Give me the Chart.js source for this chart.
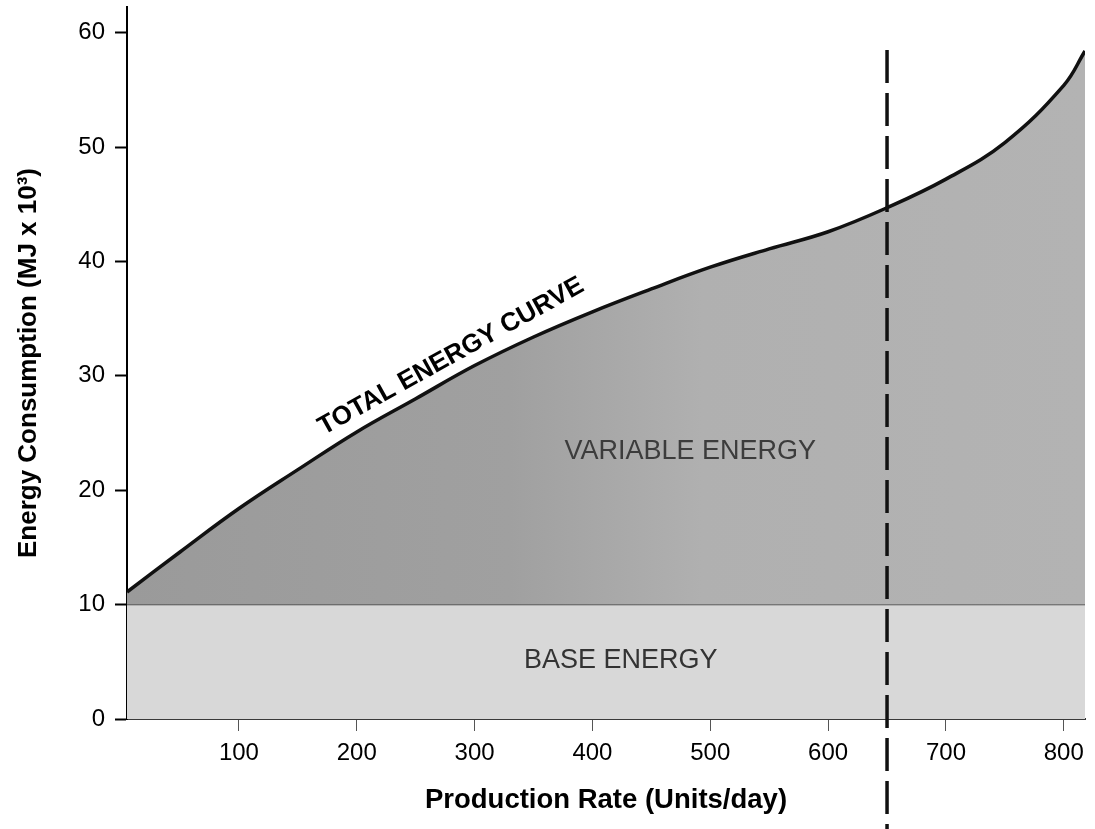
<!DOCTYPE html>
<html>
<head>
<meta charset="utf-8">
<script src="https://cdn.jsdelivr.net/npm/chart.js@4/dist/chart.umd.min.js"></script>
<style>
  html, body { margin: 0; padding: 0; background: #ffffff; }
  #wrap { width: 1095px; height: 829px; }
</style>
</head>
<body>
<div id="wrap"><canvas id="c" width="1095" height="829"></canvas></div>
<script>
// ---- data ----
const productionRate = [5, 50, 100, 150, 200, 250, 300, 350, 400, 450, 500, 550, 600, 650, 700, 750, 800, 818];
const totalEnergy    = [11.1, 14.6, 18.4, 21.8, 25.1, 28.0, 30.9, 33.4, 35.6, 37.6, 39.5, 41.1, 42.6, 44.7, 47.2, 50.4, 55.4, 58.4];
const baseRate       = [5, 818];
const baseEnergy     = [10, 10];
const xTickValues    = [100, 200, 300, 400, 500, 600, 700, 800];
const yTickValues    = [0, 10, 20, 30, 40, 50, 60];
const capacityRate   = [650];
const capacityTop    = [58.5];
const xTitle = 'Production Rate (Units/day)';
const yTitle = 'Energy Consumption (MJ x 10³)';
const textLabels = ['TOTAL ENERGY CURVE', 'VARIABLE ENERGY', 'BASE ENERGY'];

// ---- styling / placement (not data) ----
const FONT = "'Liberation Sans', Arial, Helvetica, sans-serif";
const labelPlacement = [
  { x: 280, y: 31.7, rot: -29, font: 'bold 26px ' + FONT, color: '#000000' },
  { x: 483, y: 23.4, rot: 0, font: '27px ' + FONT, color: '#3c3c3c' },
  { x: 424, y: 5.1, rot: 0, font: '27px ' + FONT, color: '#333333' }
];

const toXY = (xs, ys) => xs.map((x, i) => ({ x: x, y: ys[i] }));

const overlayPlugin = {
  id: 'overlay',
  afterDraw(chart) {
    const ctx = chart.ctx;
    const xs = chart.scales.x, ys = chart.scales.y;
    ctx.save();
    ctx.strokeStyle = '#111111';
    ctx.lineWidth = 3.5;
    ctx.setLineDash([33, 10]);
    capacityRate.forEach((v, i) => {
      const px = xs.getPixelForValue(v);
      ctx.beginPath();
      ctx.moveTo(px, ys.getPixelForValue(capacityTop[i]));
      ctx.lineTo(px, chart.height);
      ctx.stroke();
    });
    ctx.restore();
    textLabels.forEach((t, i) => {
      const p = labelPlacement[i];
      ctx.save();
      ctx.translate(xs.getPixelForValue(p.x), ys.getPixelForValue(p.y));
      ctx.rotate(p.rot * Math.PI / 180);
      ctx.font = p.font;
      ctx.fillStyle = p.color;
      ctx.textAlign = 'center';
      ctx.textBaseline = 'middle';
      ctx.fillText(t, 0, 0);
      ctx.restore();
    });
  }
};

const variableFill = (c) => {
  const chart = c.chart;
  const a = chart.chartArea;
  if (!a) return '#aaaaaa';
  const g = chart.ctx.createLinearGradient(a.left, 0, a.right, 0);
  g.addColorStop(0, '#9a9a9a');
  g.addColorStop(0.4, '#a0a0a0');
  g.addColorStop(0.6, '#b0b0b0');
  g.addColorStop(1, '#b3b3b3');
  return g;
};

new Chart(document.getElementById('c'), {
  type: 'line',
  data: {
    datasets: [
      {
        label: 'Base energy',
        data: toXY(baseRate, baseEnergy),
        borderColor: '#3c3c3c',
        borderWidth: 1.5,
        backgroundColor: '#d8d8d8',
        fill: 'origin',
        pointRadius: 0,
        order: 2
      },
      {
        label: 'Total energy',
        data: toXY(productionRate, totalEnergy),
        borderColor: '#111111',
        borderWidth: 3.5,
        backgroundColor: variableFill,
        fill: { value: 10 },
        pointRadius: 0,
        tension: 0.4,
        order: 1
      }
    ]
  },
  options: {
    responsive: false,
    animation: false,
    devicePixelRatio: 1,
    layout: { padding: { top: 7, right: 10, left: 0, bottom: 0 } },
    plugins: { legend: { display: false }, tooltip: { enabled: false } },
    scales: {
      x: {
        type: 'linear',
        min: 5,
        max: 818,
        afterBuildTicks: (s) => { s.ticks = xTickValues.map(v => ({ value: v })); },
        afterFit: (s) => { s.height = 110; s.paddingLeft = 0; s.paddingRight = 0; },
        grid: { drawOnChartArea: false, drawTicks: true, tickLength: 12, tickColor: '#555555', tickWidth: 1 },
        border: { display: true, color: '#3a3a3a', width: 2 },
        ticks: { color: '#000000', font: { family: FONT, size: 24 }, padding: 8, maxRotation: 0 },
        title: { display: true, text: xTitle, color: '#000000', font: { family: FONT, size: 27.5, weight: 'bold' }, padding: { top: 0, bottom: 12 } }
      },
      y: {
        type: 'linear',
        min: 0,
        max: 62.25,
        afterBuildTicks: (s) => { s.ticks = yTickValues.map(v => ({ value: v })); },
        afterFit: (s) => { s.width = 127; s.paddingTop = 0; s.paddingBottom = 0; },
        grid: { drawOnChartArea: false, drawTicks: true, tickLength: 12, tickColor: '#000000', tickWidth: 2 },
        border: { display: true, color: '#000000', width: 2 },
        ticks: { color: '#000000', font: { family: FONT, size: 24 }, padding: 10 },
        title: { display: true, text: yTitle, color: '#000000', font: { family: FONT, size: 26, weight: 'bold' }, padding: { top: 13, bottom: 0 } }
      }
    }
  },
  plugins: [overlayPlugin]
});
</script>
</body>
</html>
